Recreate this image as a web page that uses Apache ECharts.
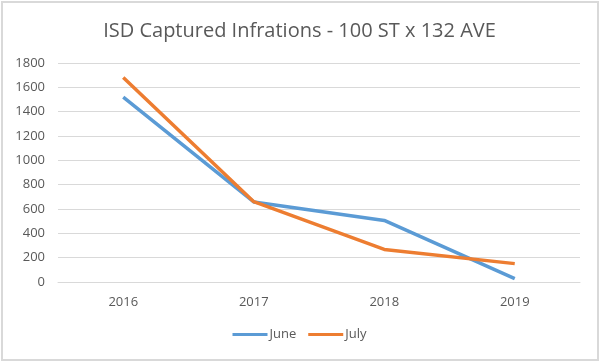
<!DOCTYPE html>
<html><head><meta charset="utf-8">
<script src="https://cdn.jsdelivr.net/npm/echarts@6/dist/echarts.min.js"></script>
<style>html,body{margin:0;padding:0;background:#fff}#c{width:599px;height:361px;box-sizing:border-box;}
#frame{position:absolute;left:1px;top:1px;width:594px;height:356px;border:2px solid #d9d9d9;pointer-events:none}</style>
</head><body><div id="c"></div><div id="frame"></div>
<script>
const categories = ['2016', '2017', '2018', '2019'];
const june = [1520, 658, 506, 28];
const july = [1680, 660, 268, 151];
const yTicks = {min: 0, max: 1800, interval: 200};

const chart = echarts.init(document.getElementById('c'));
chart.setOption({
  animation: false,
  title: {text: 'ISD Captured Infrations - 100 ST x 132 AVE', left: 'center', top: 16,
    textStyle: {fontFamily: 'Open Sans', fontWeight: 'normal', fontSize: 20, color: '#595959'}},
  grid: {left: 58, right: 19, top: 63, bottom: 79},
  legend: {bottom: 15, left: 'center', itemWidth: 35, itemHeight: 3, itemGap: 12,
    icon: 'rect', textStyle: {fontFamily: 'Open Sans', fontSize: 13, color: '#595959', padding: [0, 0, 0, -3]},
    data: ['June', 'July']},
  xAxis: {type: 'category', data: categories, boundaryGap: true,
    axisLine: {show: true, lineStyle: {color: '#d9d9d9'}}, axisTick: {show: false},
    axisLabel: {fontFamily: 'Open Sans', fontSize: 13, color: '#595959', margin: 14}},
  yAxis: {type: 'value', min: yTicks.min, max: yTicks.max, interval: yTicks.interval,
    axisLine: {show: false}, axisTick: {show: false},
    axisLabel: {fontFamily: 'Open Sans', fontSize: 13, color: '#595959', margin: 13,
      formatter: v => String(v)},
    splitLine: {lineStyle: {color: '#d9d9d9', width: 1}}},
  series: [
    {name: 'June', type: 'line', data: june, symbol: 'none', lineStyle: {color: '#5b9bd5', width: 3.5}, itemStyle: {color: '#5b9bd5'}},
    {name: 'July', type: 'line', data: july, symbol: 'none', lineStyle: {color: '#ed7d31', width: 3.5}, itemStyle: {color: '#ed7d31'}}
  ]
});
</script></body></html>
